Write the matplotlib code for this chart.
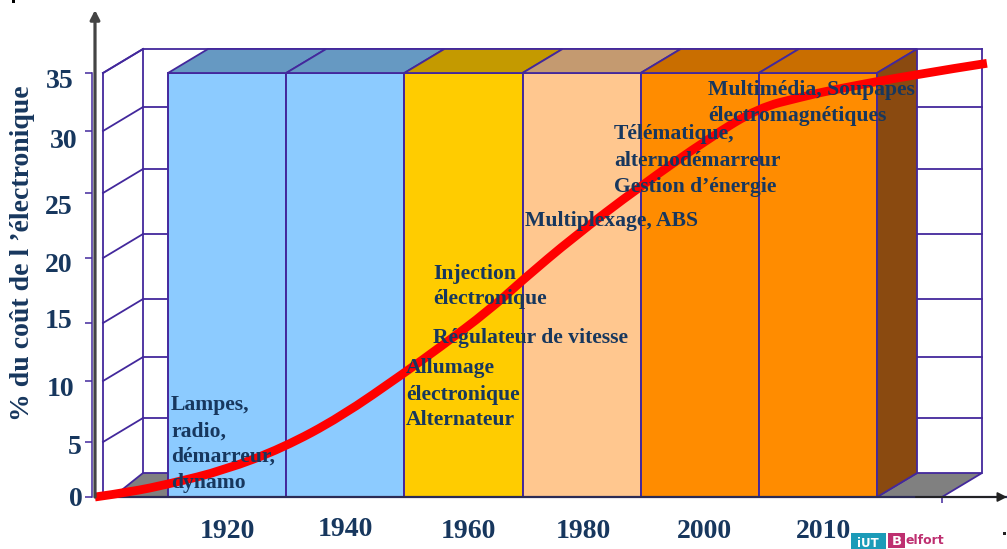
import numpy as np
import matplotlib
matplotlib.use("Agg")
import matplotlib.pyplot as plt
from matplotlib.patches import Polygon, Rectangle, PathPatch
from matplotlib.path import Path
from matplotlib.transforms import Affine2D, IdentityTransform

# ---------- data ----------
decades = ["1920", "1940", "1960", "1980", "2000", "2010"]
bar_heights = [35, 35, 35, 35, 35, 35]
y_ticks = [0, 5, 10, 15, 20, 25, 30, 35]
# category-axis position (bar index) and electronics share (%)
curve_pos = [-0.618, -0.32, 0.017, 0.48, 0.97, 1.46, 2.0, 2.30, 2.72, 3.0, 3.43, 3.99, 4.59, 5.0, 5.35, 5.6, 6.34, 6.93]
curve_val = [0, 0.45, 1.2, 2.45, 4.45, 7.05, 10.7, 12.9, 16, 18.3, 21.6, 25.5, 29.5, 32, 32.9, 33.5, 34.9, 35.8]
notes = [
    ("Lampes,", 171, 410), ("radio,", 171, 437), ("démarreur,", 171, 462), ("dynamo", 171, 488),
    ("Allumage", 406, 373), ("électronique", 406, 400), ("Alternateur", 406, 425),
    ("Injection", 433, 279), ("électronique", 433, 304), ("Régulateur de vitesse", 433, 343),
    ("Multiplexage, ABS", 525, 226),
    ("Télématique,", 614, 139), ("alternodémarreur", 614, 166), ("Gestion d’énergie", 614, 192),
    ("Multimédia, Soupapes", 708, 95), ("électromagnétiques", 708, 121),
]
ylabel = "% du coût de l ’électronique"

# ---------- styles ----------
W, H = 1007, 549
FACE = ["#8CCBFF", "#8CCBFF", "#FFCC00", "#FFC78F", "#FF8C00", "#FF8C00"]
TOP = ["#6699C2", "#6699C2", "#C49A00", "#C49A70", "#C96E00", "#C96E00"]
SIDE = "#8A4A10"
FLOOR = "#808080"
EDGE = "#43289C"
INK = "#17375E"
SERIF = "Liberation Serif"
DX, DY = 40, 24           # 3-D depth in pixels
WALL_L, WALL_R = -0.55, 6.55
# axis scale anchors: tick spacing in the picture is slightly uneven
scale_vals = [0, 5, 10, 15, 20, 25, 30, 35, 40.2]
scale_px = [0, 55, 116, 174, 239, 304, 366, 424, 487]
ylab_off = [(0, 0), (0, -3), (0, -6), (0, 5), (0, -5), (0, -12), (0, -7), (0, -5)]
ylab_xoff = [2, 1, -6, -8, -8, -8, -3, -7]
xlab_off = [(0, 0), (0, 2), (5, 0), (2, 0), (5, 0), (6, 0)]

fig = plt.figure(figsize=(W / 100, H / 100), dpi=100)
fig.patch.set_facecolor("white")
ax = fig.add_axes([95 / W, (H - 497) / H, (W - 95) / W, 487 / H])
ax.patch.set_visible(False)

ax.set_yscale("function", functions=(lambda v: np.interp(v, scale_vals, scale_px),
                                     lambda p: np.interp(p, scale_px, scale_vals)))
ax.set_xlim((95 - 168) / 118.17, (W - 168) / 118.17)
ax.set_ylim(0, 40.2)


def front(x, y):
    return ax.transData.transform((x, y))


def back(x, y):
    return front(x, y) + np.array([DX, DY])


def poly(pts, fc, z):
    ax.add_patch(Polygon(np.array(pts), closed=True, facecolor=fc, edgecolor=EDGE, lw=1.3,
                         transform=IdentityTransform(), zorder=z, clip_on=False))


def seg(a, b, z=1, lw=1.3):
    a, b = np.array(a), np.array(b)
    ax.plot([a[0], b[0]], [a[1], b[1]], color=EDGE, lw=lw, transform=IdentityTransform(),
            zorder=z, clip_on=False)


ytop = max(bar_heights)
# floors
poly([front(WALL_L, 0) + [10, 0], back(WALL_L, 0), back(0, 0) - [DX, 0], front(0, 0)], FLOOR, 1)
poly([front(6, 0), back(6, 0), back(WALL_R, 0), front(WALL_R, 0)], FLOOR, 1)
# walls and grid
seg(front(WALL_L, 0), front(WALL_L, ytop))
seg(back(WALL_L, 0), back(WALL_L, ytop))
seg(back(WALL_R, 0), back(WALL_R, ytop))
seg(front(WALL_L, ytop), back(WALL_L, ytop))
for v in y_ticks[1:]:
    seg(front(WALL_L, v), back(WALL_L, v))
    seg(back(WALL_L, v), back(WALL_R, v))

# bars
x_idx = np.arange(len(decades))
ax.bar(x_idx, bar_heights, width=1.0, align="edge", color=FACE, edgecolor=EDGE, linewidth=1.4, zorder=3)
for i, h in enumerate(bar_heights):
    poly([front(i, h), front(i + 1, h), back(i + 1, h), back(i, h)], TOP[i], 3)
poly([front(6, 0), front(6, ytop), back(6, ytop), back(6, 0)], SIDE, 3)

# curve: read points joined by a smooth quadratic path, drawn in pixel space
pix = ax.transData.transform(np.column_stack([curve_pos, curve_val]))
verts = [pix[0]]
codes = [Path.MOVETO]
for k in range(1, len(pix) - 1):
    mid = (pix[k] + pix[k + 1]) / 2 if k < len(pix) - 2 else pix[k + 1]
    verts += [pix[k], mid]
    codes += [Path.CURVE3, Path.CURVE3]
ax.add_patch(PathPatch(Path(verts, codes), fill=False, edgecolor="#FF0000", lw=6.3, capstyle="butt",
                       joinstyle="round", transform=IdentityTransform(), zorder=5, clip_on=False))

# axes
for s in ("top", "right"):
    ax.spines[s].set_visible(False)
ax.spines["left"].set_position(("outward", 2.5))
ax.spines["left"].set_bounds(-0.3, 35)
ax.spines["left"].set_color(EDGE)
ax.spines["left"].set_linewidth(1.1)
ax.spines["bottom"].set_color("#2B2B55")
ax.spines["bottom"].set_linewidth(1.6)
ax.spines["bottom"].set_zorder(4)
ax.set_yticks(y_ticks)
ax.set_yticklabels([str(v) for v in y_ticks], fontfamily=SERIF, fontweight="bold", fontsize=20, color=INK)
ax.tick_params(axis="y", length=5, width=1.1, color=EDGE, pad=3)
ax.set_xticks(x_idx + 0.5)
ax.set_xticklabels(decades, fontfamily=SERIF, fontweight="bold", fontsize=20, color=INK)
ax.tick_params(axis="x", length=0, pad=16)
ax.set_xticks([WALL_R], minor=True)
ax.tick_params(axis="x", which="minor", length=4, width=1.1, color=EDGE)
ax.yaxis.set_minor_locator(matplotlib.ticker.NullLocator())
for lab, (dx, dy), ex in zip(ax.get_yticklabels(), ylab_off, ylab_xoff):
    lab.set_transform(lab.get_transform() + Affine2D().translate(dx + ex, dy))
for lab, (dx, dy) in zip(ax.get_xticklabels(), xlab_off):
    lab.set_transform(lab.get_transform() + Affine2D().translate(dx, dy))

arrow = dict(arrowstyle="-|>,head_width=0.28,head_length=0.55", color="#222222", lw=1.3, shrinkA=0, shrinkB=0)
ax.annotate("", xy=(0, 1), xytext=(0, 0), xycoords="axes fraction", textcoords="axes fraction",
            arrowprops=dict(arrow, color="#444444", lw=2.3), zorder=6)
ax.annotate("", xy=(1, 0), xytext=(0.9, 0), xycoords="axes fraction", textcoords="axes fraction",
            arrowprops=arrow, zorder=6)

fig.text(23 / W, 1 - 253 / H, ylabel, rotation=90, ha="center", va="center",
         family=SERIF, weight="bold", fontsize=20, color=INK)

for txt, px, py in notes:
    fig.text(px / W, 1 - py / H, txt, ha="left", va="baseline", family=SERIF, weight="bold",
             fontsize=15.6, color=INK, zorder=6)

# logo and stray marks
fig.add_artist(Rectangle((851 / W, 0), 35 / W, 16 / H, transform=fig.transFigure, fc="#1B9BB8", ec="none"))
fig.add_artist(Rectangle((888 / W, 1 / H), 17 / W, 15 / H, transform=fig.transFigure, fc="#BE2F70", ec="none"))
fig.text(868 / W, 2 / H, "iUT", ha="center", va="baseline", family="DejaVu Sans", weight="bold",
         fontsize=8.5, color="white", zorder=6)
fig.text(896.5 / W, 4 / H, "B", ha="center", va="baseline", family="DejaVu Sans", weight="bold",
         fontsize=9.5, color="white", zorder=6)
fig.text(906 / W, 5 / H, "elfort", ha="left", va="baseline", family="DejaVu Sans", weight="bold",
         fontsize=9, color="#BE2F70", zorder=6)
fig.add_artist(Rectangle((12 / W, 1 - 3 / H), 3 / W, 3 / H, transform=fig.transFigure, fc="black", ec="none"))
fig.add_artist(Rectangle((1003 / W, 1 - 535 / H), 3 / W, 3 / H, transform=fig.transFigure, fc="#222222", ec="none"))

fig.savefig("out.png", dpi=100)
